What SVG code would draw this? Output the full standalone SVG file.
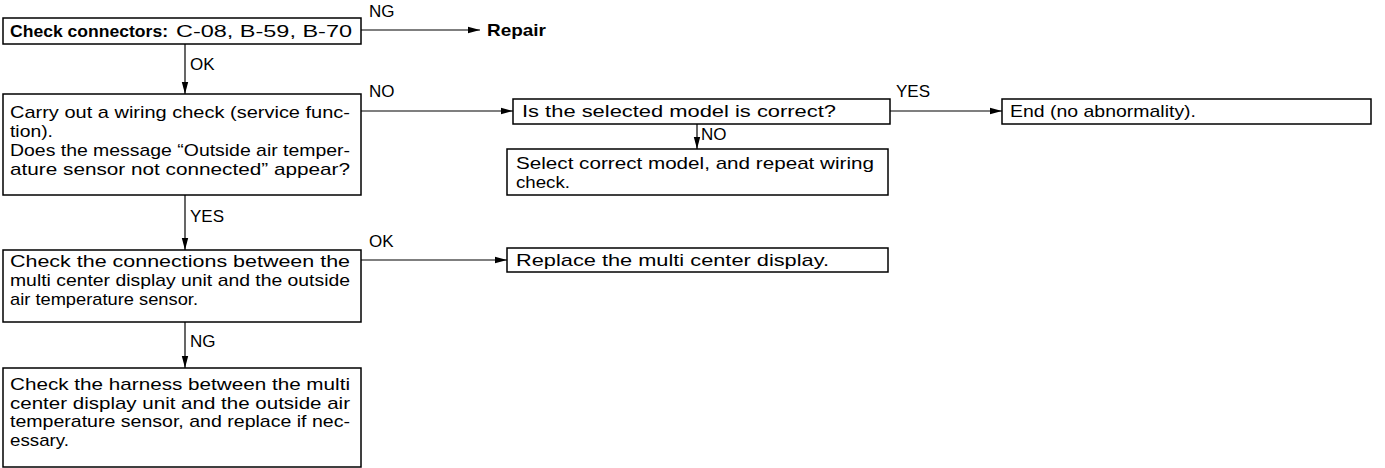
<svg xmlns="http://www.w3.org/2000/svg" width="1385" height="468" viewBox="0 0 1385 468">
<style>
  .box{fill:#fff;stroke:#000;stroke-width:1.5}
  .t{font-family:"Liberation Sans",Arial,sans-serif;font-size:17px;fill:#000}
  .b{font-weight:bold}
  .lbl{font-family:"Liberation Sans",Arial,sans-serif;font-size:17px;fill:#000}
  .c{stroke:#000;stroke-width:1.2;fill:none;marker-end:url(#ah)}
</style>
<defs>
  <marker id="ah" markerUnits="userSpaceOnUse" markerWidth="13" markerHeight="8" refX="12" refY="4" orient="auto">
    <path d="M0,0.8 L12,4 L0,7.2 z" fill="#000"/>
  </marker>
</defs>
<rect width="1385" height="468" fill="#fff"/>
<g id="connectors">
  <line class="c" x1="361" y1="30" x2="480" y2="30"/>
  <line class="c" x1="185" y1="44" x2="185" y2="94"/>
  <line class="c" x1="361" y1="111" x2="513" y2="111"/>
  <line class="c" x1="890" y1="111" x2="1002" y2="111"/>
  <line class="c" x1="697" y1="124" x2="697" y2="149"/>
  <line class="c" x1="185" y1="195" x2="185" y2="250"/>
  <line class="c" x1="361" y1="260" x2="507" y2="260"/>
  <line class="c" x1="185" y1="322" x2="185" y2="368"/>
  <text class="lbl" x="369" y="17">NG</text>
  <text class="lbl" x="190" y="70">OK</text>
  <text class="lbl" x="369" y="97">NO</text>
  <text class="lbl" x="896" y="97">YES</text>
  <text class="lbl" x="701" y="140">NO</text>
  <text class="lbl" x="190" y="222">YES</text>
  <text class="lbl" x="369" y="247">OK</text>
  <text class="lbl" x="190" y="347">NG</text>
</g>
<g id="n1">
  <rect class="box" x="3" y="18" width="358" height="26"/>
  <text class="t b" x="10" y="37" textLength="158" lengthAdjust="spacingAndGlyphs">Check connectors:</text>
  <text class="t" x="176" y="37" textLength="176" lengthAdjust="spacingAndGlyphs">C-08, B-59, B-70</text>
</g>
<g id="repair">
  <text class="t b" x="487" y="36" textLength="59" lengthAdjust="spacingAndGlyphs">Repair</text>
</g>
<g id="n2">
  <rect class="box" x="3" y="94" width="358" height="101"/>
  <text class="t" x="10" y="118" textLength="340" lengthAdjust="spacingAndGlyphs">Carry out a wiring check (service func-</text>
  <text class="t" x="10" y="137" textLength="43" lengthAdjust="spacingAndGlyphs">tion).</text>
  <text class="t" x="10" y="156" textLength="340" lengthAdjust="spacingAndGlyphs">Does the message “Outside air temper-</text>
  <text class="t" x="10" y="175" textLength="340" lengthAdjust="spacingAndGlyphs">ature sensor not connected” appear?</text>
</g>
<g id="n3">
  <rect class="box" x="3" y="250" width="358" height="72"/>
  <text class="t" x="10" y="267" textLength="340" lengthAdjust="spacingAndGlyphs">Check the connections between the</text>
  <text class="t" x="10" y="286" textLength="340" lengthAdjust="spacingAndGlyphs">multi center display unit and the outside</text>
  <text class="t" x="10" y="305" textLength="188" lengthAdjust="spacingAndGlyphs">air temperature sensor.</text>
</g>
<g id="n4">
  <rect class="box" x="3" y="368" width="358" height="99"/>
  <text class="t" x="10" y="390" textLength="340" lengthAdjust="spacingAndGlyphs">Check the harness between the multi</text>
  <text class="t" x="10" y="409" textLength="340" lengthAdjust="spacingAndGlyphs">center display unit and the outside air</text>
  <text class="t" x="10" y="427" textLength="340" lengthAdjust="spacingAndGlyphs">temperature sensor, and replace if nec-</text>
  <text class="t" x="10" y="446" textLength="59" lengthAdjust="spacingAndGlyphs">essary.</text>
</g>
<g id="n5">
  <rect class="box" x="513" y="99" width="377" height="25"/>
  <text class="t" x="522" y="117" textLength="314" lengthAdjust="spacingAndGlyphs">Is the selected model is correct?</text>
</g>
<g id="n6">
  <rect class="box" x="1002" y="99" width="369" height="25"/>
  <text class="t" x="1010" y="117" textLength="186" lengthAdjust="spacingAndGlyphs">End (no abnormality).</text>
</g>
<g id="n7">
  <rect class="box" x="507" y="149" width="381" height="46"/>
  <text class="t" x="516" y="169" textLength="358" lengthAdjust="spacingAndGlyphs">Select correct model, and repeat wiring</text>
  <text class="t" x="516" y="188" textLength="54" lengthAdjust="spacingAndGlyphs">check.</text>
</g>
<g id="n8">
  <rect class="box" x="507" y="248" width="381" height="24"/>
  <text class="t" x="516" y="266" textLength="313" lengthAdjust="spacingAndGlyphs">Replace the multi center display.</text>
</g>
</svg>
